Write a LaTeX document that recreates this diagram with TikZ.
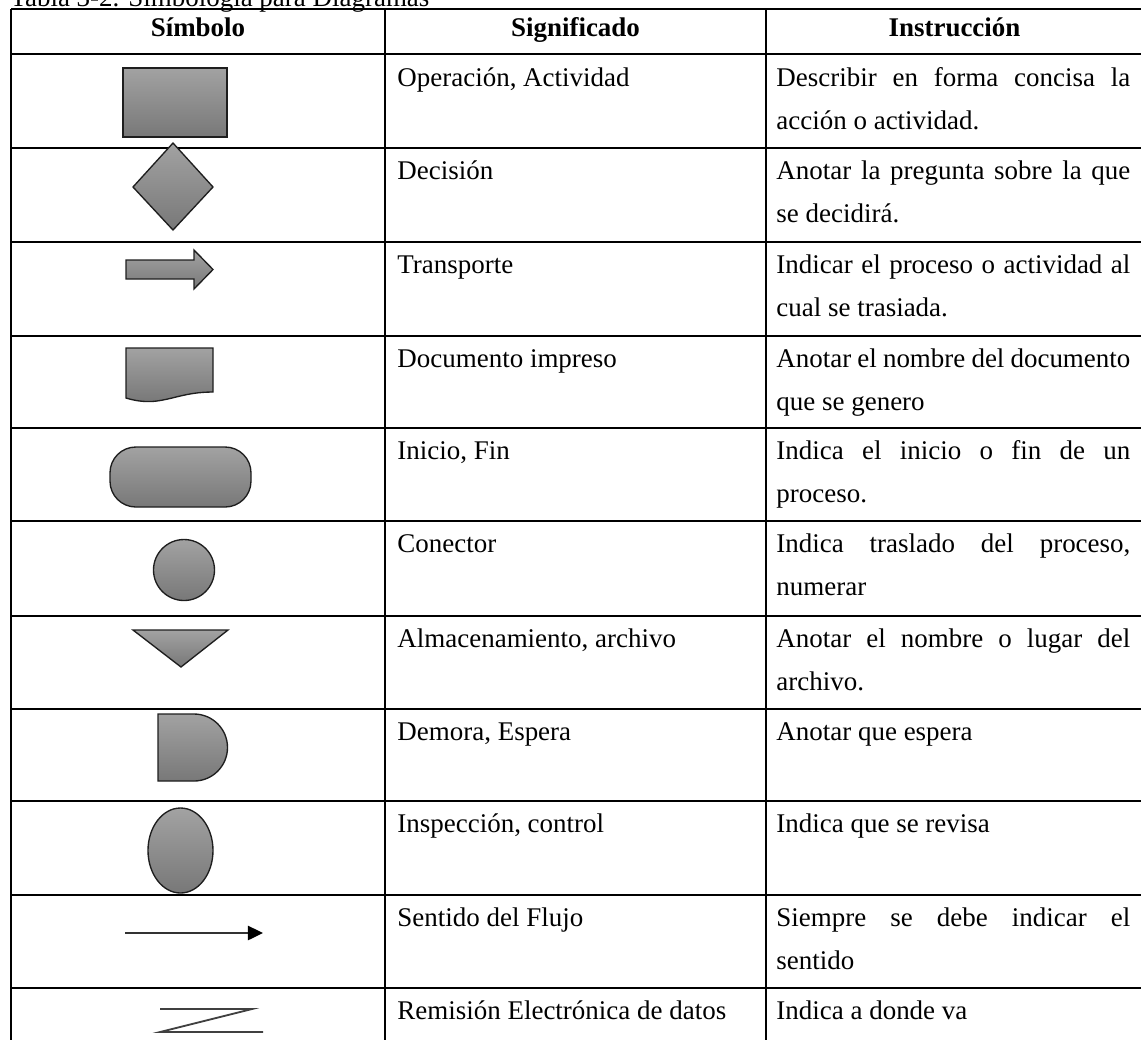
\documentclass[tikz,border=0pt]{standalone}
\usepackage{fontspec}
\setmainfont{Liberation Serif}
\usetikzlibrary{arrows.meta,shadings}
\definecolor{shtop}{HTML}{A2A2A2}
\definecolor{shbot}{HTML}{787878}
\definecolor{edgecol}{HTML}{1E1E1E}
\newcommand{\jline}[1]{\makebox[157.5pt][s]{#1}}
\begin{document}
\begin{tikzpicture}[x=0.445pt,y=-0.445pt,
  gridline/.style={line width=1.25pt, black},
  shp/.style={draw=edgecol, line width=0.6pt, top color=shtop, bottom color=shbot},
  hdr/.style={font=\fontsize{12}{14}\selectfont\bfseries, anchor=base, inner sep=0pt},
  txt/.style={font=\fontsize{12}{14}\selectfont, anchor=base west, inner sep=0pt},
]
\useasboundingbox (0,0) rectangle (1141,1039);
% title (cut by page top, as in the reference)
\node[txt] (title) at (10,6) {Tabla 3-2. Simbología para Diagramas};
% grid
\foreach \yy in {9,54,148,242,336,428,521,616,709,801,895,988}
  \draw[gridline] (11,\yy) -- (1150,\yy);
\foreach \xx in {11,385,766,1147}
  \draw[gridline] (\xx,9) -- (\xx,1050);
% header
\node[hdr] (h1) at (198,36) {Símbolo};
\node[hdr] (h2) at (575.5,36) {Significado};
\node[hdr] (h3) at (954.5,36) {Instrucción};
% symbols
\draw[shp] (123,68) rectangle (227,137);
\draw[shp] (173,143) -- (213,187) -- (173,230) -- (133,187) -- cycle;
\draw[shp] (126,260) -- (194,260) -- (194,250) -- (213,269.5) -- (194,289) -- (194,279) -- (126,279) -- cycle;
\draw[shp] (126,348) -- (213,348) -- (213,392) .. controls (185,392) and (172,400) .. (152,401.5) .. controls (140,402) and (131,399.5) .. (126,398) -- cycle;
\draw[shp, rounded corners=11.5pt] (110,447) rectangle (251,507);
\draw[shp] (184,570) circle[radius=30.5];
\draw[shp] (133,630) -- (228,630) -- (181,667) -- cycle;
\draw[shp] (158,714) -- (194,714) arc[start angle=-90, end angle=90, radius=33.5] -- (158,781) -- cycle;
\draw[shp] (180.5,850.5) ellipse[x radius=32.5, y radius=42.5];
\draw[line width=0.6pt, draw=black!80, -{Triangle[length=6.7pt,width=6.4pt,color=black]}] (125,933) -- (263,933);
\draw[line width=0.8pt, black!75] (160,1009) -- (252,1009) -- (160,1032) -- (263,1032);
% meaning column
\node[txt] (s1) at (397,86) {Operación, Actividad};
\node[txt] (s2) at (397,179) {Decisión};
\node[txt] (s3) at (397,273) {Transporte};
\node[txt] (s4) at (397,367) {Documento impreso};
\node[txt] (s5) at (397,459) {Inicio, Fin};
\node[txt] (s6) at (397,552) {Conector};
\node[txt] (s7) at (397,647) {Almacenamiento, archivo};
\node[txt] (s8) at (397,740) {Demora, Espera};
\node[txt] (s9) at (397,832) {Inspección, control};
\node[txt] (s10) at (397,926) {Sentido del Flujo};
\node[txt] (s11) at (397,1019) {Remisión Electrónica de datos};
% instruction column
\node[txt] (i1a) at (776,86) {\jline{Describir en forma concisa la}};
\node[txt] (i1b) at (776,129) {acción o actividad.};
\node[txt] (i2a) at (776,179) {\jline{Anotar la pregunta sobre la que}};
\node[txt] (i2b) at (776,222) {se decidirá.};
\node[txt] (i3a) at (776,273) {\jline{Indicar el proceso o actividad al}};
\node[txt] (i3b) at (776,316) {cual se trasiada.};
\node[txt] (i4a) at (776,367) {\jline{Anotar el nombre del documento}};
\node[txt] (i4b) at (776,410) {que se genero};
\node[txt] (i5a) at (776,459) {\jline{Indica el inicio o fin de un}};
\node[txt] (i5b) at (776,502) {proceso.};
\node[txt] (i6a) at (776,552) {\jline{Indica traslado del proceso,}};
\node[txt] (i6b) at (776,595) {numerar};
\node[txt] (i7a) at (776,647) {\jline{Anotar el nombre o lugar del}};
\node[txt] (i7b) at (776,690) {archivo.};
\node[txt] (i8) at (776,740) {Anotar que espera};
\node[txt] (i9) at (776,832) {Indica que se revisa};
\node[txt] (i10a) at (776,926) {\jline{Siempre se debe indicar el}};
\node[txt] (i10b) at (776,969) {sentido};
\node[txt] (i11) at (776,1019) {Indica a donde va};
\end{tikzpicture}
\end{document}
